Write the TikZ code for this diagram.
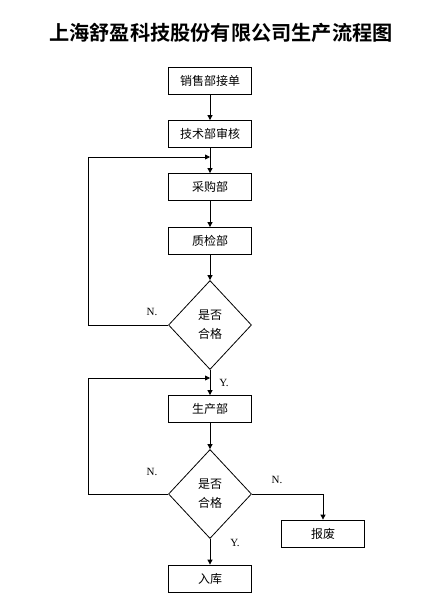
\documentclass[tikz,border=0pt]{standalone}
\usepackage{fontspec}
\usetikzlibrary{shapes.geometric,arrows.meta}
\newfontfamily\cjk{Noto Sans CJK SC}
\newfontfamily\cjkb{Noto Sans CJK SC Bold}
\newfontfamily\lat{Liberation Serif}
\begin{document}
\begin{tikzpicture}[x=1pt,y=-1pt,
  procbox/.style={draw,line width=0.8pt,minimum width=83pt,minimum height=27pt,inner sep=0pt,font=\cjk\fontsize{12}{14}\selectfont},
  decide/.style={draw,diamond,line width=0.8pt,minimum width=83pt,minimum height=89pt,inner sep=0pt,align=center,font=\cjk\fontsize{12}{19}\selectfont},
  flow/.style={line width=0.8pt,-{Triangle[length=5pt,width=5pt]}},
  lbl/.style={font=\lat\fontsize{11}{12}\selectfont,inner sep=0pt}]
\useasboundingbox (0,0) rectangle (443,611);
\node[font=\cjkb\fontsize{20.2}{22}\selectfont] (title) at (221,33) {上海舒盈科技股份有限公司生产流程图};
\node[procbox] (sales) at (210,80.5) {销售部接单};
\node[procbox] (tech) at (210,134) {技术部审核};
\node[procbox] (buy) at (210,187) {采购部};
\node[procbox] (qc) at (210,241) {质检部};
\node[decide] (d1) at (210,325) {是否\\合格};
\node[procbox] (prod) at (210,409) {生产部};
\node[decide] (d2) at (210,494) {是否\\合格};
\node[procbox] (scrap) at (323,533.5) {报废};
\node[procbox] (store) at (210,578.5) {入库};
\coordinate (m1) at (210,157);
\coordinate (m2) at (210,378);
\draw[flow] (sales) -- (tech);
\draw[flow] (tech) -- (buy);
\draw[flow] (buy) -- (qc);
\draw[flow] (qc) -- (d1);
\draw[flow] (d1) -- (prod);
\draw[flow] (prod) -- (d2);
\draw[flow] (d2) -- (store);
\draw[flow] (d1.west) -- (88,325) -- (88,157) -- (m1);
\draw[flow] (d2.west) -- (88,494) -- (88,378) -- (m2);
\draw[flow] (d2.east) -| (scrap.north);
\node[lbl] (n1) at (152,312) {N.};
\node[lbl] (y1) at (224,383) {Y.};
\node[lbl] (n2) at (152,472) {N.};
\node[lbl] (n3) at (277,480) {N.};
\node[lbl] (y2) at (235,543) {Y.};
\end{tikzpicture}
\end{document}
